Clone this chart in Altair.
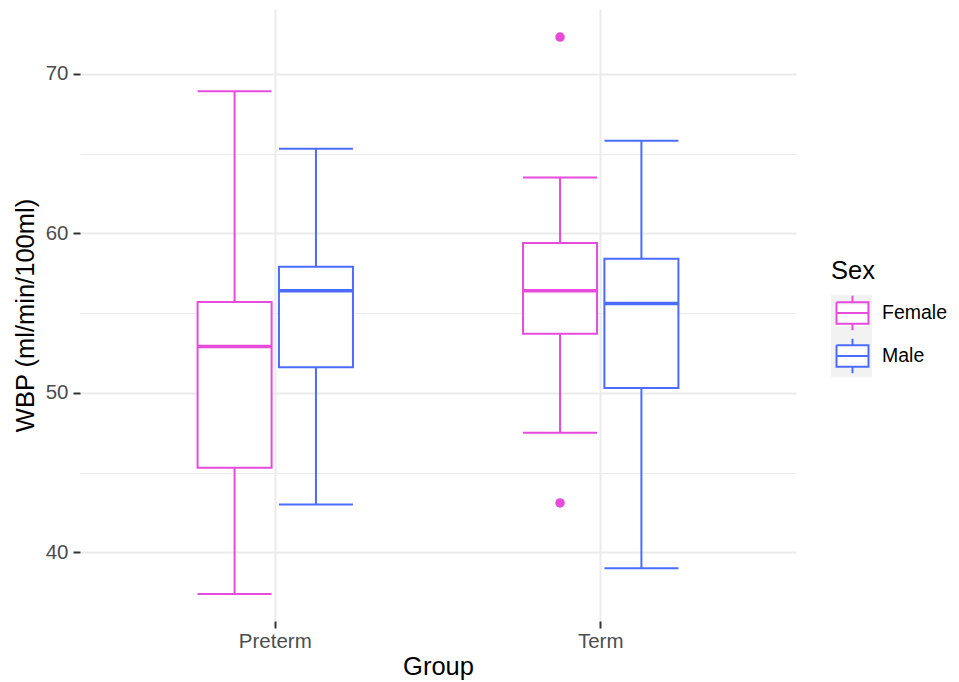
import altair as alt
import pandas as pd

# ---- data ----
groups = ["Preterm", "Preterm", "Term", "Term"]
sexes = ["Female", "Male", "Female", "Male"]
whisker_low = [37.4, 43.0, 47.5, 39.0]
q1 = [45.3, 51.6, 53.7, 50.3]
medians = [52.9, 56.4, 56.4, 55.6]
q3 = [55.7, 57.9, 59.4, 58.4]
whisker_high = [68.9, 65.3, 63.5, 65.8]

outlier_groups = ["Term", "Term"]
outlier_sexes = ["Female", "Female"]
outlier_values = [72.3, 43.1]

group_levels = ["Preterm", "Term"]
sex_levels = ["Female", "Male"]
sex_colors = ["#E64BDB", "#4C6CFF"]
y_ticks = [40, 45, 50, 55, 60, 65, 70]

stats = pd.DataFrame({
    "Group": groups, "Sex": sexes, "SexKey": sexes, "SexFill": sexes,
    "low": whisker_low, "q1": q1, "median": medians, "q3": q3, "high": whisker_high,
})
outliers = pd.DataFrame({
    "Group": outlier_groups, "Sex": outlier_sexes, "SexFill": outlier_sexes,
    "value": outlier_values,
})

FONT = "Liberation Sans"
BOX_W = 74
LABEL_SIZE = 20.5
TITLE_SIZE = 25.5
LEGEND_LABEL_SIZE = 19.5

x_enc = alt.X(
    "Group:N",
    scale=alt.Scale(domain=group_levels, paddingInner=0.5, paddingOuter=0.35),
    axis=alt.Axis(
        title="Group", labelAngle=0, grid=True, gridColor="#EBEBEB", gridWidth=2,
        domain=False, tickColor="#333333", tickSize=7, tickWidth=2,
        labelColor="#4D4D4D", labelFontSize=LABEL_SIZE, labelPadding=3,
        titleFontSize=TITLE_SIZE, titleColor="black", titleFontWeight="normal", titlePadding=3,
    ),
)
xo_enc = alt.XOffset(
    "Sex:N", scale=alt.Scale(domain=sex_levels, paddingInner=0.0904, paddingOuter=0.0452)
)
y_scale = alt.Scale(domain=[35.7, 74.06], nice=False, zero=False)
minor_test = "datum.value % 10 !== 0"
y_axis = alt.Axis(
    title="WBP (ml/min/100ml)", values=y_ticks,
    labelExpr="datum.value % 10 === 0 ? datum.label : ''",
    grid=True, gridColor="#EBEBEB",
    gridWidth={"condition": {"test": minor_test, "value": 1}, "value": 2},
    tickOpacity={"condition": {"test": minor_test, "value": 0}, "value": 1},
    domain=False, tickColor="#333333", tickSize=7, tickWidth=2,
    labelColor="#4D4D4D", labelFontSize=LABEL_SIZE, labelPadding=5,
    titleFontSize=TITLE_SIZE, titleColor="black", titleFontWeight="normal", titlePadding=7,
)

def Y(field):
    return alt.Y(f"{field}:Q", scale=y_scale, axis=y_axis)

LEG_X = 751
LEG_Y = 250
KEY_TOP = 36  # offset of the first key below the legend title

# box-plot glyph drawn as strokes only (every closed part retraced, so it encloses no fill)
GLYPH = ("M-0.78,-0.52H0.78V0.52H-0.78V-0.52V0.52H0.78V-0.52H-0.78Z "
         "M-0.78,0H0.78Z M0,-0.52V-0.84Z M0,0.52V0.84Z")
# grey key square with a hole where the white box sits
KEY_BG = "M-1,-1H1V1H-1Z M-0.78,-0.52V0.52H0.78V-0.52Z"

stroke_enc = alt.Stroke(
    "Sex:N", scale=alt.Scale(domain=sex_levels, range=sex_colors),
    legend=alt.Legend(
        title="Sex", orient="none", legendX=LEG_X, legendY=LEG_Y, padding=0,
        titleFontSize=TITLE_SIZE, titleFontWeight="normal", titlePadding=7,
        titleFont=FONT, titleColor="black",
        labelFontSize=LEGEND_LABEL_SIZE, labelOffset=8, labelFont=FONT, labelColor="black",
        rowPadding=0, symbolSize=1681, symbolType=GLYPH,
        symbolStrokeWidth=2, symbolOpacity=1, symbolFillColor="white",
    ),
)
fill_enc = alt.Fill("SexFill:N", scale=alt.Scale(domain=sex_levels, range=sex_colors), legend=None)
# grey key backgrounds: a second, text-less legend drawn under the glyph legend
bg_enc = alt.Color(
    "SexKey:N", scale=alt.Scale(domain=sex_levels[::-1], range=["#F2F2F2", "#F2F2F2"]),
    legend=alt.Legend(
        title=None, orient="none", legendX=LEG_X, legendY=LEG_Y + KEY_TOP, padding=0,
        labelExpr="''", labelFontSize=LEGEND_LABEL_SIZE, labelOffset=8,
        rowPadding=0, symbolSize=1681,
        symbolType=KEY_BG, symbolStrokeWidth=0, symbolOpacity=1,
    ),
)

base = alt.Chart(stats)

legend_bg = base.mark_square(opacity=0).encode(x=x_enc, xOffset=xo_enc, y=Y("median"), color=bg_enc)
whiskers = base.mark_rule(strokeWidth=2, opacity=1).encode(
    x=x_enc, xOffset=xo_enc, y=Y("low"), y2="high:Q", stroke=stroke_enc
)
box_fill = base.mark_bar(fill="white", strokeWidth=0, opacity=1).encode(
    x=x_enc, xOffset=xo_enc, y=Y("q1"), y2="q3:Q"
)
box_outline = base.mark_bar(filled=False, strokeWidth=2, opacity=1).encode(
    x=x_enc, xOffset=xo_enc, y=Y("q1"), y2="q3:Q", stroke=stroke_enc
)
cap_low = base.mark_tick(thickness=2, size=BOX_W, opacity=1).encode(
    x=x_enc, xOffset=xo_enc, y=Y("low"), fill=fill_enc
)
cap_high = base.mark_tick(thickness=2, size=BOX_W, opacity=1).encode(
    x=x_enc, xOffset=xo_enc, y=Y("high"), fill=fill_enc
)
median_line = base.mark_tick(thickness=3.5, size=BOX_W, opacity=1).encode(
    x=x_enc, xOffset=xo_enc, y=Y("median"), fill=fill_enc
)
points = alt.Chart(outliers).mark_circle(size=90, opacity=1).encode(
    x=x_enc, xOffset=xo_enc, y=Y("value"), fill=fill_enc
)

chart = (
    alt.layer(legend_bg, whiskers, box_fill, box_outline, cap_low, cap_high, median_line, points)
    .properties(
        width=716, height=612,
        autosize=alt.AutoSizeParams(type="none"),
        padding={"left": 72, "top": 1, "right": 155, "bottom": 60},
    )
    .configure(font=FONT, background="white")
    .configure_view(stroke=None)
)

chart.save("out.html", embed_options={"renderer": "svg", "actions": False})
